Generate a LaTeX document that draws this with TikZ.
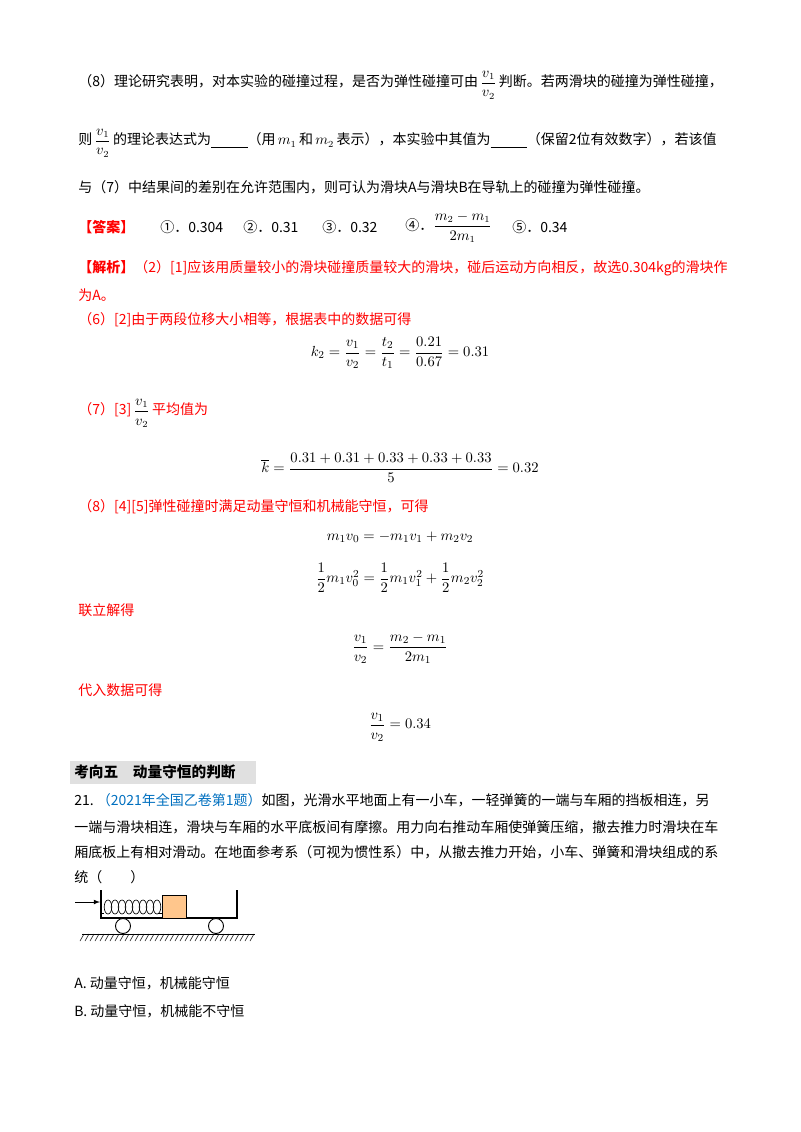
\documentclass[tikz,border=0pt]{standalone}
\usepackage{fontspec}
\setmainfont{Liberation Serif}
\newfontfamily\cjk{Noto Sans CJK SC}
\usepackage{amsmath}
\definecolor{ansred}{RGB}{255,0,0}
\definecolor{srcblue}{RGB}{0,112,192}
\newcommand{\blank}{\underline{\hspace{2.6em}}}
\begin{document}
\begin{tikzpicture}[x=0.75pt,y=-0.75pt,
  ln/.style={anchor=west,inner sep=0pt,font=\cjk\fontsize{10.5}{12}\selectfont},
  eq/.style={anchor=center,inner sep=0pt,font=\fontsize{11}{13}\selectfont},
  red/.style={text=ansred}]
\useasboundingbox (0,0) rectangle (800,1132);
\fill[white] (0,0) rectangle (800,1132);
\node[ln] (l1) at (78,85) {（8）理论研究表明，对本实验的碰撞过程，是否为弹性碰撞可由\,$\dfrac{v_1}{v_2}$\,判断。若两滑块的碰撞为弹性碰撞，};
\node[ln] (l2) at (78,143) {则\,$\dfrac{v_1}{v_2}$\,的理论表达式为\blank（用\,$m_1$\,和\,$m_2$\,表示），本实验中其值为\blank（保留2位有效数字），若该值};
\node[ln] (l3) at (78,187) {与（7）中结果间的差别在允许范围内，则可认为滑块A与滑块B在导轨上的碰撞为弹性碰撞。};
\node[ln,red] (ans) at (78,227) {\bfseries【答案】};
\node[ln] (a1) at (160,227) {①．0.304};
\node[ln] (a2) at (243,227) {②．0.31};
\node[ln] (a3) at (322,227) {③．0.32};
\node[ln] (a4) at (405,227) {④．$\dfrac{m_2-m_1}{2m_1}$};
\node[ln] (a5) at (512,227) {⑤．0.34};
\node[ln,red] (j1) at (78,268) {{\bfseries【解析】}（2）[1]应该用质量较小的滑块碰撞质量较大的滑块，碰后运动方向相反，故选0.304kg的滑块作};
\node[ln,red] (j2) at (78,295) {为A。};
\node[ln,red] (j3) at (78,320) {（6）[2]由于两段位移大小相等，根据表中的数据可得};
\node[eq] (e1) at (400,353) {$k_2=\dfrac{v_1}{v_2}=\dfrac{t_2}{t_1}=\dfrac{0.21}{0.67}=0.31$};
\node[ln,red] (j4) at (78,413) {（7）[3]\,\textcolor{black}{$\dfrac{v_1}{v_2}$}\,平均值为};
\node[eq] (e2) at (400,468) {$\overline{k}=\dfrac{0.31+0.31+0.33+0.33+0.33}{5}=0.32$};
\node[ln,red] (j5) at (78,507) {（8）[4][5]弹性碰撞时满足动量守恒和机械能守恒，可得};
\node[eq] (e3) at (400,537) {$m_1v_0=-m_1v_1+m_2v_2$};
\node[eq] (e4) at (400,578) {$\dfrac12 m_1v_0^2=\dfrac12 m_1v_1^2+\dfrac12 m_2v_2^2$};
\node[ln,red] (j6) at (78,610) {联立解得};
\node[eq] (e5) at (400,648) {$\dfrac{v_1}{v_2}=\dfrac{m_2-m_1}{2m_1}$};
\node[ln,red] (j7) at (78,690) {代入数据可得};
\node[eq] (e6) at (400,727) {$\dfrac{v_1}{v_2}=0.34$};
\fill[black!12] (70,761) rectangle (256,784);
\node[ln,font=\cjk\bfseries\fontsize{11}{13}\selectfont] (h) at (74,772) {考向五\quad 动量守恒的判断};
\node[ln] (q1) at (74,800) {21.\ \textcolor{srcblue}{（2021年全国乙卷第1题）}如图，光滑水平地面上有一小车，一轻弹簧的一端与车厢的挡板相连，另};
\node[ln] (q2) at (74,827) {一端与滑块相连，滑块与车厢的水平底板间有摩擦。用力向右推动车厢使弹簧压缩，撤去推力时滑块在车};
\node[ln] (q3) at (74,852) {厢底板上有相对滑动。在地面参考系（可视为惯性系）中，从撤去推力开始，小车、弹簧和滑块组成的系};
\node[ln] (q4) at (74,877) {统（\qquad）};
% figure
\draw[line width=0.8pt] (101,890) -- (101,918) -- (237,918) -- (237,890);
\draw[fill=orange!45!white,draw=black,line width=0.6pt] (162,895) rectangle (186,918);
\foreach \i in {0,...,7} \draw[line width=0.5pt] (108+7*\i,907) ellipse (3.8 and 7);
\draw[line width=0.6pt] (101,913) -- (104,913);
\draw[line width=0.6pt] (158,913) -- (162,913);
\coordinate (ps) at (75,902); \coordinate (pe) at (100,902);
\draw[-latex,line width=0.6pt] (ps) -- (pe);
\draw[line width=0.7pt,fill=white] (123,926) circle (7.5);
\draw[line width=0.7pt,fill=white] (216,926) circle (7.5);
\draw[line width=0.7pt] (82,934) -- (255,934);
\foreach \x in {84,89,...,254} \draw[line width=0.4pt] (\x,934) -- (\x-4,941);
\node[ln] (oa) at (74,983) {A.\ 动量守恒，机械能守恒};
\node[ln] (ob) at (74,1011) {B.\ 动量守恒，机械能不守恒};
\end{tikzpicture}
\end{document}
